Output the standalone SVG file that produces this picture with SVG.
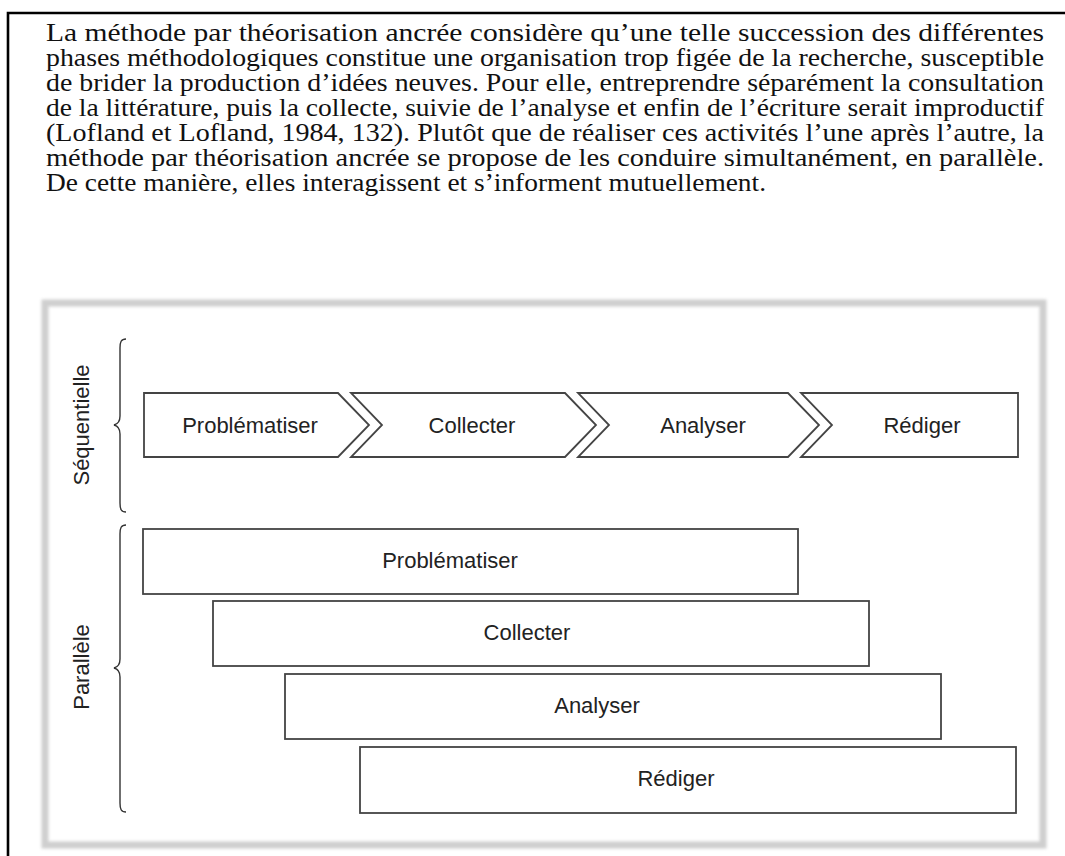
<svg xmlns="http://www.w3.org/2000/svg" width="1065" height="856" viewBox="0 0 1065 856">
<style>
.para{font-family:"Liberation Serif","Times New Roman",serif;font-size:25px;fill:#111}
.lbl{font-family:"Liberation Sans",Arial,sans-serif;font-size:22px;fill:#222;text-anchor:middle}
.shape{fill:#fff;stroke:#444;stroke-width:1.8;stroke-linejoin:miter}
.brace{fill:none;stroke:#333;stroke-width:1.4}
</style>
<defs>
<filter id="soft" x="-5%" y="-5%" width="110%" height="110%"><feGaussianBlur stdDeviation="1.4"/></filter>
</defs>
<rect x="0" y="0" width="1065" height="856" fill="#fff"/>
<g id="border">
<path d="M8,856 L8,13 L1065,13" fill="none" stroke="#000" stroke-width="2.6"/>
</g>
<g id="paragraph" class="para">
<text x="46" y="41" textLength="998" lengthAdjust="spacingAndGlyphs">La méthode par théorisation ancrée considère qu’une telle succession des différentes</text>
<text x="46" y="66" textLength="998" lengthAdjust="spacingAndGlyphs">phases méthodologiques constitue une organisation trop figée de la recherche, susceptible</text>
<text x="46" y="91" textLength="998" lengthAdjust="spacingAndGlyphs">de brider la production d’idées neuves. Pour elle, entreprendre séparément la consultation</text>
<text x="46" y="116" textLength="998" lengthAdjust="spacingAndGlyphs">de la littérature, puis la collecte, suivie de l’analyse et enfin de l’écriture serait improductif</text>
<text x="46" y="141" textLength="998" lengthAdjust="spacingAndGlyphs">(Lofland et Lofland, 1984, 132). Plutôt que de réaliser ces activités l’une après l’autre, la</text>
<text x="46" y="166" textLength="998" lengthAdjust="spacingAndGlyphs">méthode par théorisation ancrée se propose de les conduire simultanément, en parallèle.</text>
<text x="46" y="191" textLength="720" lengthAdjust="spacingAndGlyphs">De cette manière, elles interagissent et s’informent mutuellement.</text>
</g>
<g id="frame">
<rect x="45" y="303" width="998" height="542" fill="none" stroke="#cfcfcf" stroke-width="7" filter="url(#soft)"/>
</g>
<g id="label-sequentielle">
<text class="lbl" transform="translate(89,425) rotate(-90)">Séquentielle</text>
</g>
<g id="label-parallele">
<text class="lbl" transform="translate(89,667) rotate(-90)">Parallèle</text>
</g>
<g id="connectors">
<path class="brace" d="M126,339 C121,339 120,342 120,348 L120,416 C120,422 118,424 114,425 C118,426 120,428 120,434 L120,503 C120,509 121,512 126,512"/>
<path class="brace" d="M126,525 C121,525 120,528 120,534 L120,659 C120,665 118,667 114,668 C118,669 120,671 120,677 L120,803 C120,809 121,812 126,812"/>
</g>
<g id="seq-problematiser">
<path class="shape" d="M144,393 L338,393 L369,425 L338,457 L144,457 Z"/>
<text class="lbl" x="250" y="433">Problématiser</text>
</g>
<g id="seq-collecter">
<path class="shape" d="M351,393 L565,393 L596,425 L565,457 L351,457 L382,425 Z"/>
<text class="lbl" x="472" y="433">Collecter</text>
</g>
<g id="seq-analyser">
<path class="shape" d="M578,393 L788,393 L819,425 L788,457 L578,457 L609,425 Z"/>
<text class="lbl" x="703" y="433">Analyser</text>
</g>
<g id="seq-rediger">
<path class="shape" d="M801,393 L1018,393 L1018,457 L801,457 L832,425 Z"/>
<text class="lbl" x="922" y="433">Rédiger</text>
</g>
<g id="par-problematiser">
<rect class="shape" x="143" y="529" width="655" height="65"/>
<text class="lbl" x="450" y="568">Problématiser</text>
</g>
<g id="par-collecter">
<rect class="shape" x="213" y="601" width="656" height="65"/>
<text class="lbl" x="527" y="640">Collecter</text>
</g>
<g id="par-analyser">
<rect class="shape" x="285" y="674" width="656" height="65"/>
<text class="lbl" x="597" y="713">Analyser</text>
</g>
<g id="par-rediger">
<rect class="shape" x="360" y="747" width="656" height="66"/>
<text class="lbl" x="676" y="786">Rédiger</text>
</g>
</svg>
